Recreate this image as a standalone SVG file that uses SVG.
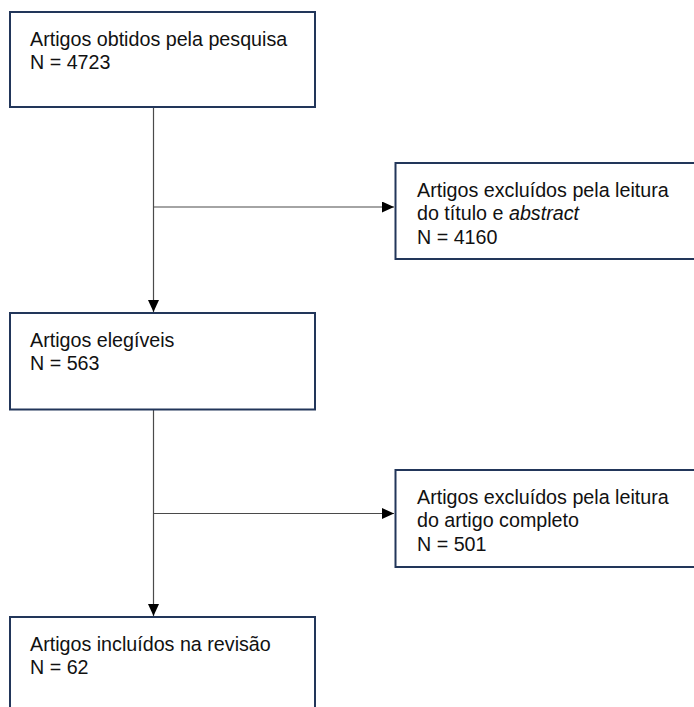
<svg xmlns="http://www.w3.org/2000/svg" width="694" height="707" viewBox="0 0 694 707">
<style>
.box{fill:#ffffff;stroke:#22365a;stroke-width:2}
.t{font-family:"Liberation Sans",Arial,sans-serif;font-size:19.7px;fill:#111111}
.c{stroke:#4a4a4a;stroke-width:1.2;fill:none}
</style>
<defs>
<marker id="ah" viewBox="0 0 12 11" refX="12" refY="5.5" markerWidth="12" markerHeight="11" markerUnits="userSpaceOnUse" orient="auto">
<path d="M0,0 L12,5.5 L0,11 Z" fill="#000000"/>
</marker>
</defs>
<rect width="694" height="707" fill="#ffffff"/>
<g id="connectors">
<line class="c" x1="153.5" y1="107" x2="153.5" y2="312" marker-end="url(#ah)"/>
<line class="c" x1="153.5" y1="207" x2="394" y2="207" marker-end="url(#ah)"/>
<line class="c" x1="153.5" y1="410" x2="153.5" y2="616" marker-end="url(#ah)"/>
<line class="c" x1="153.5" y1="513.5" x2="394" y2="513.5" marker-end="url(#ah)"/>
</g>
<g id="n1">
<rect class="box" x="10" y="12" width="305" height="95"/>
<text class="t" x="30" y="45.7">Artigos obtidos pela pesquisa</text>
<text class="t" x="30" y="69.2">N = 4723</text>
</g>
<g id="n2">
<rect class="box" x="395.5" y="163" width="310" height="96"/>
<text class="t" x="417" y="196.7">Artigos excluídos pela leitura</text>
<text class="t" x="417" y="220.2">do título e <tspan font-style="italic">abstract</tspan></text>
<text class="t" x="417" y="243.7">N = 4160</text>
</g>
<g id="n3">
<rect class="box" x="10" y="313" width="305" height="96.5"/>
<text class="t" x="30" y="346.7">Artigos elegíveis</text>
<text class="t" x="30" y="370.2">N = 563</text>
</g>
<g id="n4">
<rect class="box" x="395.5" y="470" width="310" height="97"/>
<text class="t" x="417" y="503.5">Artigos excluídos pela leitura</text>
<text class="t" x="417" y="527">do artigo completo</text>
<text class="t" x="417" y="550.5">N = 501</text>
</g>
<g id="n5">
<rect class="box" x="10" y="617" width="305" height="100"/>
<text class="t" x="30" y="650.7">Artigos incluídos na revisão</text>
<text class="t" x="30" y="674.2">N = 62</text>
</g>
</svg>
